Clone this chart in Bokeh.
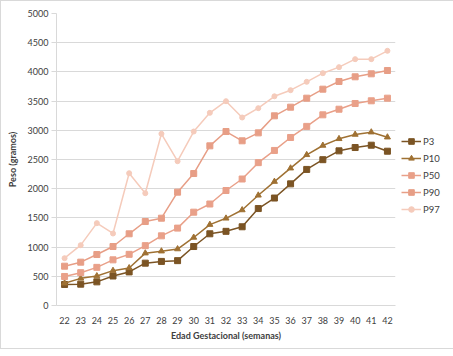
from bokeh.plotting import figure
from bokeh.models import FactorRange, Legend, LegendItem, SingleIntervalTicker, Range1d
from bokeh.embed import file_html
from bokeh.resources import INLINE

weeks = [str(w) for w in range(22, 43)]
p3 = [360, 365, 405, 505, 575, 725, 755, 768, 1010, 1228, 1270, 1348, 1660, 1840, 2083, 2330, 2497, 2648, 2705, 2745, 2642]
p10 = [382, 465, 505, 597, 643, 896, 930, 967, 1165, 1385, 1493, 1635, 1887, 2122, 2351, 2580, 2740, 2854, 2928, 2968, 2882]
p50 = [497, 562, 653, 782, 876, 1025, 1193, 1325, 1598, 1738, 1969, 2166, 2446, 2655, 2877, 3067, 3265, 3361, 3459, 3505, 3550]
p90 = [673, 742, 873, 1010, 1228, 1438, 1495, 1941, 2260, 2734, 2979, 2820, 2956, 3248, 3396, 3550, 3704, 3836, 3916, 3967, 4024]
p97 = [810, 1033, 1410, 1233, 2265, 1923, 2940, 2471, 2979, 3299, 3498, 3219, 3379, 3582, 3687, 3830, 3978, 4081, 4218, 4218, 4361]

series = [
    ("P3", p3, "#7b5424", "square", 6),
    ("P10", p10, "#9f7133", "triangle", 6),
    ("P50", p50, "#e9a089", "square", 6),
    ("P90", p90, "#e79e86", "square", 6),
    ("P97", p97, "#f5cbbb", "circle", 5),
]

FONT = "Lato"
GRID = "#d9d9d9"
TXT = "#404040"

p = figure(frame_width=339, frame_height=292, output_backend="svg", toolbar_location=None,
           x_range=FactorRange(*weeks, range_padding=0), y_range=Range1d(0, 5000),
           min_border_left=55, min_border_right=10, min_border_top=12, min_border_bottom=43)
p.outline_line_color = None
p.border_fill_color = "white"

items = []
for name, vals, col, mk, sz in series:
    r = p.line(weeks, vals, line_color=col, line_width=1.5)
    m = p.scatter(weeks, vals, marker=mk, size=sz, fill_color=col, line_color=col)
    items.append(LegendItem(label=name, renderers=[r, m]))

legend = Legend(items=items, location="center_left", margin=6, padding=0,
                title=" ", title_text_font_size="10px", title_standoff=21,
                border_line_color=None, background_fill_alpha=0,
                glyph_width=20, glyph_height=14, spacing=3, label_standoff=2,
                label_width=0,
                label_text_font=FONT, label_text_font_size="9.5px", label_text_color=TXT)
p.add_layout(legend, "right")

p.yaxis.ticker = SingleIntervalTicker(interval=500)
p.ygrid.grid_line_color = GRID
p.xgrid.grid_line_color = None

for ax in (p.xaxis[0], p.yaxis[0]):
    ax.axis_line_color = GRID
    ax.major_tick_line_color = GRID
    ax.minor_tick_line_color = None
    ax.major_label_text_font = FONT
    ax.major_label_text_font_size = "9px"
    ax.major_label_text_color = TXT
    ax.axis_label_text_font = FONT
    ax.axis_label_text_font_size = "9px"
    ax.axis_label_text_font_style = "bold"
    ax.axis_label_text_color = TXT

p.xaxis.major_tick_line_color = None
p.xaxis.major_label_standoff = 5
p.xaxis.axis_label = "Edad Gestacional (semanas)"
p.xaxis.axis_label_standoff = 3
p.yaxis.major_tick_in = 0
p.yaxis.major_tick_out = 5
p.yaxis.major_label_standoff = 3
p.yaxis.axis_label = "Peso (gramos)"
p.yaxis.axis_label_standoff = 7

p.styles = {"border": "1px solid #d9d9d9"}

open("out.html", "w").write(file_html(p, INLINE))
